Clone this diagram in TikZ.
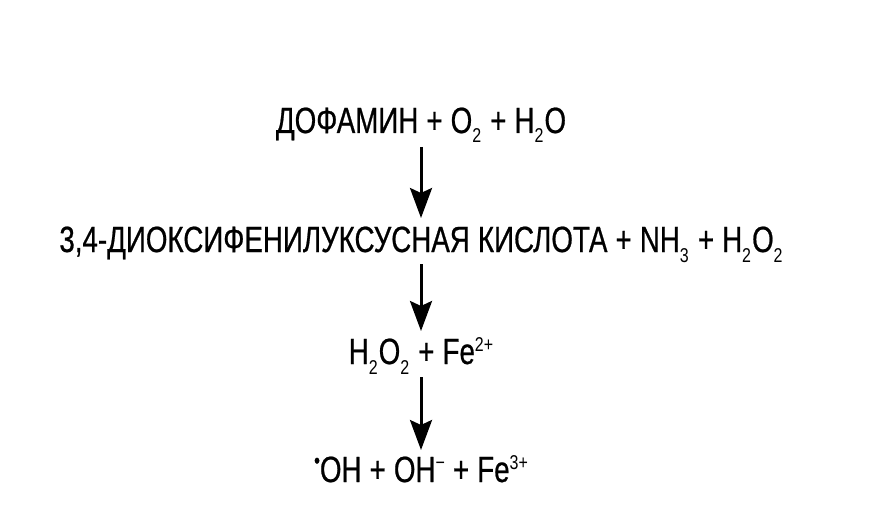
\documentclass[tikz,border=0pt]{standalone}
\usepackage{fontspec}
\setmainfont[FakeStretch=0.76,WordSpace=1.05,FakeBold=0.6]{Liberation Sans}
\newfontfamily\lightsub[FakeStretch=0.8]{Liberation Sans}
\usetikzlibrary{arrows.meta}
\newcommand{\sbx}[1]{\raisebox{-10pt}{\lightsub\fontsize{20}{20}\selectfont #1}\hspace{1pt}}
\newcommand{\spx}[1]{\raisebox{13pt}{\lightsub\fontsize{20}{20}\selectfont #1}}
\newcommand{\radot}{\raisebox{14pt}{\fontsize{22}{22}\selectfont •}}
\tikzset{
  lbl/.style={font=\fontsize{36.5}{36.5}\selectfont, inner sep=0pt, anchor=base},
  arr/.style={line width=3pt, -{Stealth[length=30pt,width=22pt,inset=5pt]}}
}
\begin{document}
\begin{tikzpicture}[x=1pt,y=-1pt]
\useasboundingbox[fill=white] (0,0) rectangle (872,505);
\node[lbl] (l1) at (421,133) {ДОФАМИН + O\sbx{2} + H\sbx{2}O};
\node[lbl] (l2) at (421,252) {3,4-ДИОКСИФЕНИЛУКСУСНАЯ КИСЛОТА + NH\sbx{3} + H\sbx{2}O\sbx{2}};
\node[lbl] (l3) at (421,364) {H\sbx{2}O\sbx{2} + Fe\spx{2+}};
\node[lbl] (l4) at (421,482) {\radot OH + OH\spx{−} + Fe\spx{3+}};
\draw[arr] ([yshift=-14pt]l1.base) -- ([yshift=34pt]l2.base);
\draw[arr] ([yshift=-12pt]l2.base) -- ([yshift=33pt]l3.base);
\draw[arr] ([yshift=-13pt]l3.base) -- ([yshift=32pt]l4.base);
\end{tikzpicture}
\end{document}
